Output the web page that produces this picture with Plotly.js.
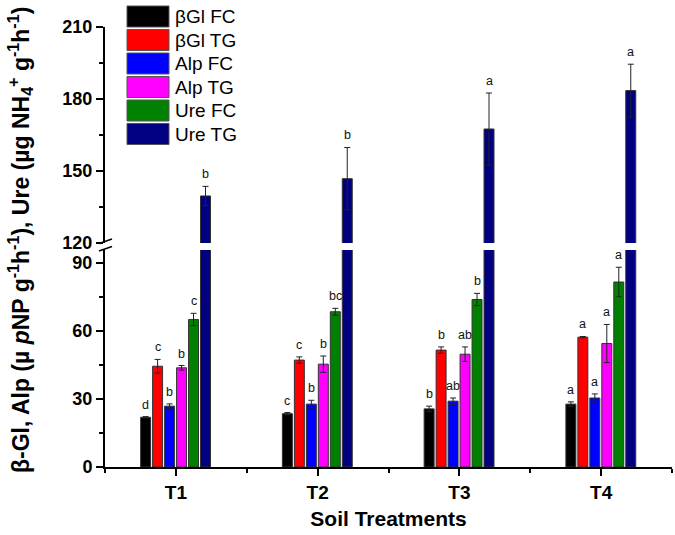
<!DOCTYPE html>
<html>
<head>
<meta charset="utf-8">
<script src="https://cdn.plot.ly/plotly-3.0.1.min.js"></script>
<style>
  body { margin: 0; background: #fff; }
  #plot { width: 675px; height: 535px; }
</style>
</head>
<body>
<div id="plot"></div>
<script>
// Data
const categories = ['T1', 'T2', 'T3', 'T4'];
const seriesNames = ['βGl FC', 'βGl TG', 'Alp FC', 'Alp TG', 'Ure FC', 'Ure TG'];
const seriesColors = ['#000000', '#ff0000', '#0000ff', '#ff00ff', '#008000', '#000080'];

const bglFC = [21.9, 23.5, 25.6, 27.7];
const bglFCErr = [0.3, 0.5, 1.2, 1.0];
const bglTG = [44.4, 47.1, 51.5, 57.2];
const bglTGErr = [3.0, 1.4, 1.4, 0.3];
const alpFC = [26.8, 27.7, 29.0, 30.4];
const alpFCErr = [1.0, 1.7, 1.4, 1.8];
const alpTG = [43.7, 45.3, 49.7, 54.4];
const alpTGErr = [1.0, 3.6, 3.2, 8.4];
const ureFC = [65.0, 68.4, 73.8, 81.5];
const ureFCErr = [2.7, 1.5, 2.7, 6.5];
const ureTG = [139.6, 146.8, 167.5, 183.5];
const ureTGErr = [4.0, 13.0, 15.0, 11.0];

const letters = [
    ['d', 'c', 'b', 'a'],
    ['c', 'c', 'b', 'a'],
    ['b', 'b', 'ab', 'a'],
    ['b', 'b', 'ab', 'a'],
    ['c', 'bc', 'b', 'a'],
    ['b', 'b', 'a', 'a']
];

const values = [bglFC, bglTG, alpFC, alpTG, ureFC, ureTG];
const errors = [bglFCErr, bglTGErr, alpFCErr, alpTGErr, ureFCErr, ureTGErr];

// Geometry of the plot (pixels)
const W = 675, H = 535;
const M = {l: 105, r: 3, t: 27, b: 68};
const plotW = W - M.l - M.r;
const plotH = H - M.t - M.b;
const px2x = px => (px - M.l) / plotW;
const px2y = py => (H - M.b - py) / plotH;

const lowerTop = 95.6;        // value at top of lower panel
const lowerDomain = [0, px2y(250)];
const upperDomain = [px2y(243), 1];

const barWidth = 0.0704;      // in category units
const barPitch = 0.0845;
const groupStart = -0.2486;

const FONT = 'Liberation Sans, Arial, sans-serif';
const xIdx = categories.map((c, i) => i);

const traces = [];
const annotations = [];
const shapes = [];

for (let i = 0; i < seriesNames.length; i++) {
    const offset = groupStart + i * barPitch;
    const isUpper = i === seriesNames.length - 1;
    traces.push({
        type: 'bar',
        x: xIdx,
        y: values[i],
        xaxis: 'x',
        yaxis: 'y',
        offset: offset,
        width: barWidth,
        marker: {color: seriesColors[i], line: {color: '#333', width: 1}},
        error_y: isUpper ? {visible: false} : {type: 'data', array: errors[i], color: '#222', thickness: 1, width: 3},
        name: seriesNames[i],
        showlegend: false,
        hoverinfo: 'skip'
    });
    if (isUpper) {
        // same bars again on the upper (broken) axis
        traces.push({
            type: 'bar',
            x: xIdx,
            y: values[i],
            xaxis: 'x',
            yaxis: 'y2',
            offset: offset,
            width: barWidth,
            marker: {color: seriesColors[i], line: {color: '#333', width: 1}},
            error_y: {type: 'data', array: errors[i], color: '#222', thickness: 1, width: 3},
            showlegend: false,
            hoverinfo: 'skip'
        });
    }
    // significance letters
    for (let j = 0; j < categories.length; j++) {
        annotations.push({
            x: j + offset + barWidth / 2,
            y: values[i][j] + errors[i][j],
            xref: 'x',
            yref: isUpper ? 'y2' : 'y',
            text: letters[i][j],
            showarrow: false,
            yanchor: 'bottom',
            yshift: 3,
            font: {family: FONT, size: 12.5, color: '#111'}
        });
    }
    // legend drawn by hand (large swatches)
    const rowTop = 6 + i * 23.5;
    shapes.push({
        type: 'rect', xref: 'paper', yref: 'paper',
        x0: px2x(127), x1: px2x(169),
        y0: px2y(rowTop), y1: px2y(rowTop + 21),
        fillcolor: seriesColors[i],
        line: {color: '#555', width: 1}
    });
    annotations.push({
        xref: 'paper', yref: 'paper',
        x: px2x(173), y: px2y(rowTop + 10.5),
        xanchor: 'left', yanchor: 'middle',
        text: seriesNames[i],
        showarrow: false,
        font: {family: FONT, size: 19, color: '#000'}
    });
}

// axis break marks
[[243.5, 239], [251, 246.5]].forEach(([a, b]) => {
    shapes.push({
        type: 'line', xref: 'paper', yref: 'paper',
        x0: px2x(99), y0: px2y(a), x1: px2x(112), y1: px2y(b),
        line: {color: '#000', width: 1.5}
    });
});

// y axis title
annotations.push({
    xref: 'paper', yref: 'paper',
    x: px2x(20), y: px2y(240),
    xanchor: 'center', yanchor: 'middle',
    textangle: -90,
    showarrow: false,
    text: '<b>β-Gl, Alp (µ <i>p</i>NP g<sup>-1</sup>h<sup>-1</sup>), Ure (µg NH<sub>4</sub><sup>+</sup> g<sup>-1</sup>h<sup>-1</sup>)</b>',
    font: {family: FONT, size: 23, color: '#000'}
});

const tickFont = {family: FONT, size: 18, color: '#000', weight: 'bold'};
const yCommon = {
    showline: true, linecolor: '#000', linewidth: 2,
    ticks: 'outside', ticklen: 7, tickwidth: 2, tickcolor: '#000',
    tick0: 0, dtick: 30,
    minor: {dtick: 15, ticks: 'outside', ticklen: 4, tickwidth: 2, tickcolor: '#000'},
    showgrid: false, zeroline: false,
    tickfont: tickFont,
    anchor: 'x',
    fixedrange: true
};

const layout = {
    width: W, height: H,
    margin: M,
    paper_bgcolor: '#fff',
    plot_bgcolor: '#fff',
    barmode: 'overlay',
    showlegend: false,
    xaxis: {
        range: [-0.5, 3.5],
        tickmode: 'array',
        tickvals: xIdx,
        ticktext: categories,
        showline: true, linecolor: '#000', linewidth: 2,
        ticks: 'outside', ticklen: 7, tickwidth: 2, tickcolor: '#000',
        minor: {tick0: 0.5, dtick: 1, ticks: 'outside', ticklen: 4, tickwidth: 2, tickcolor: '#000'},
        showgrid: false, zeroline: false,
        tickfont: {family: FONT, size: 19, color: '#000', weight: 'bold'},
        anchor: 'y',
        title: {text: 'Soil Treatments', font: {family: FONT, size: 21, color: '#000', weight: 'bold'}, standoff: 10},
        fixedrange: true
    },
    yaxis: Object.assign({}, yCommon, {domain: lowerDomain, range: [0, lowerTop]}),
    yaxis2: Object.assign({}, yCommon, {domain: upperDomain, range: [120, 210]}),
    shapes: shapes,
    annotations: annotations
};

Plotly.newPlot('plot', traces, layout, {displayModeBar: false, staticPlot: true});
</script>
</body>
</html>
